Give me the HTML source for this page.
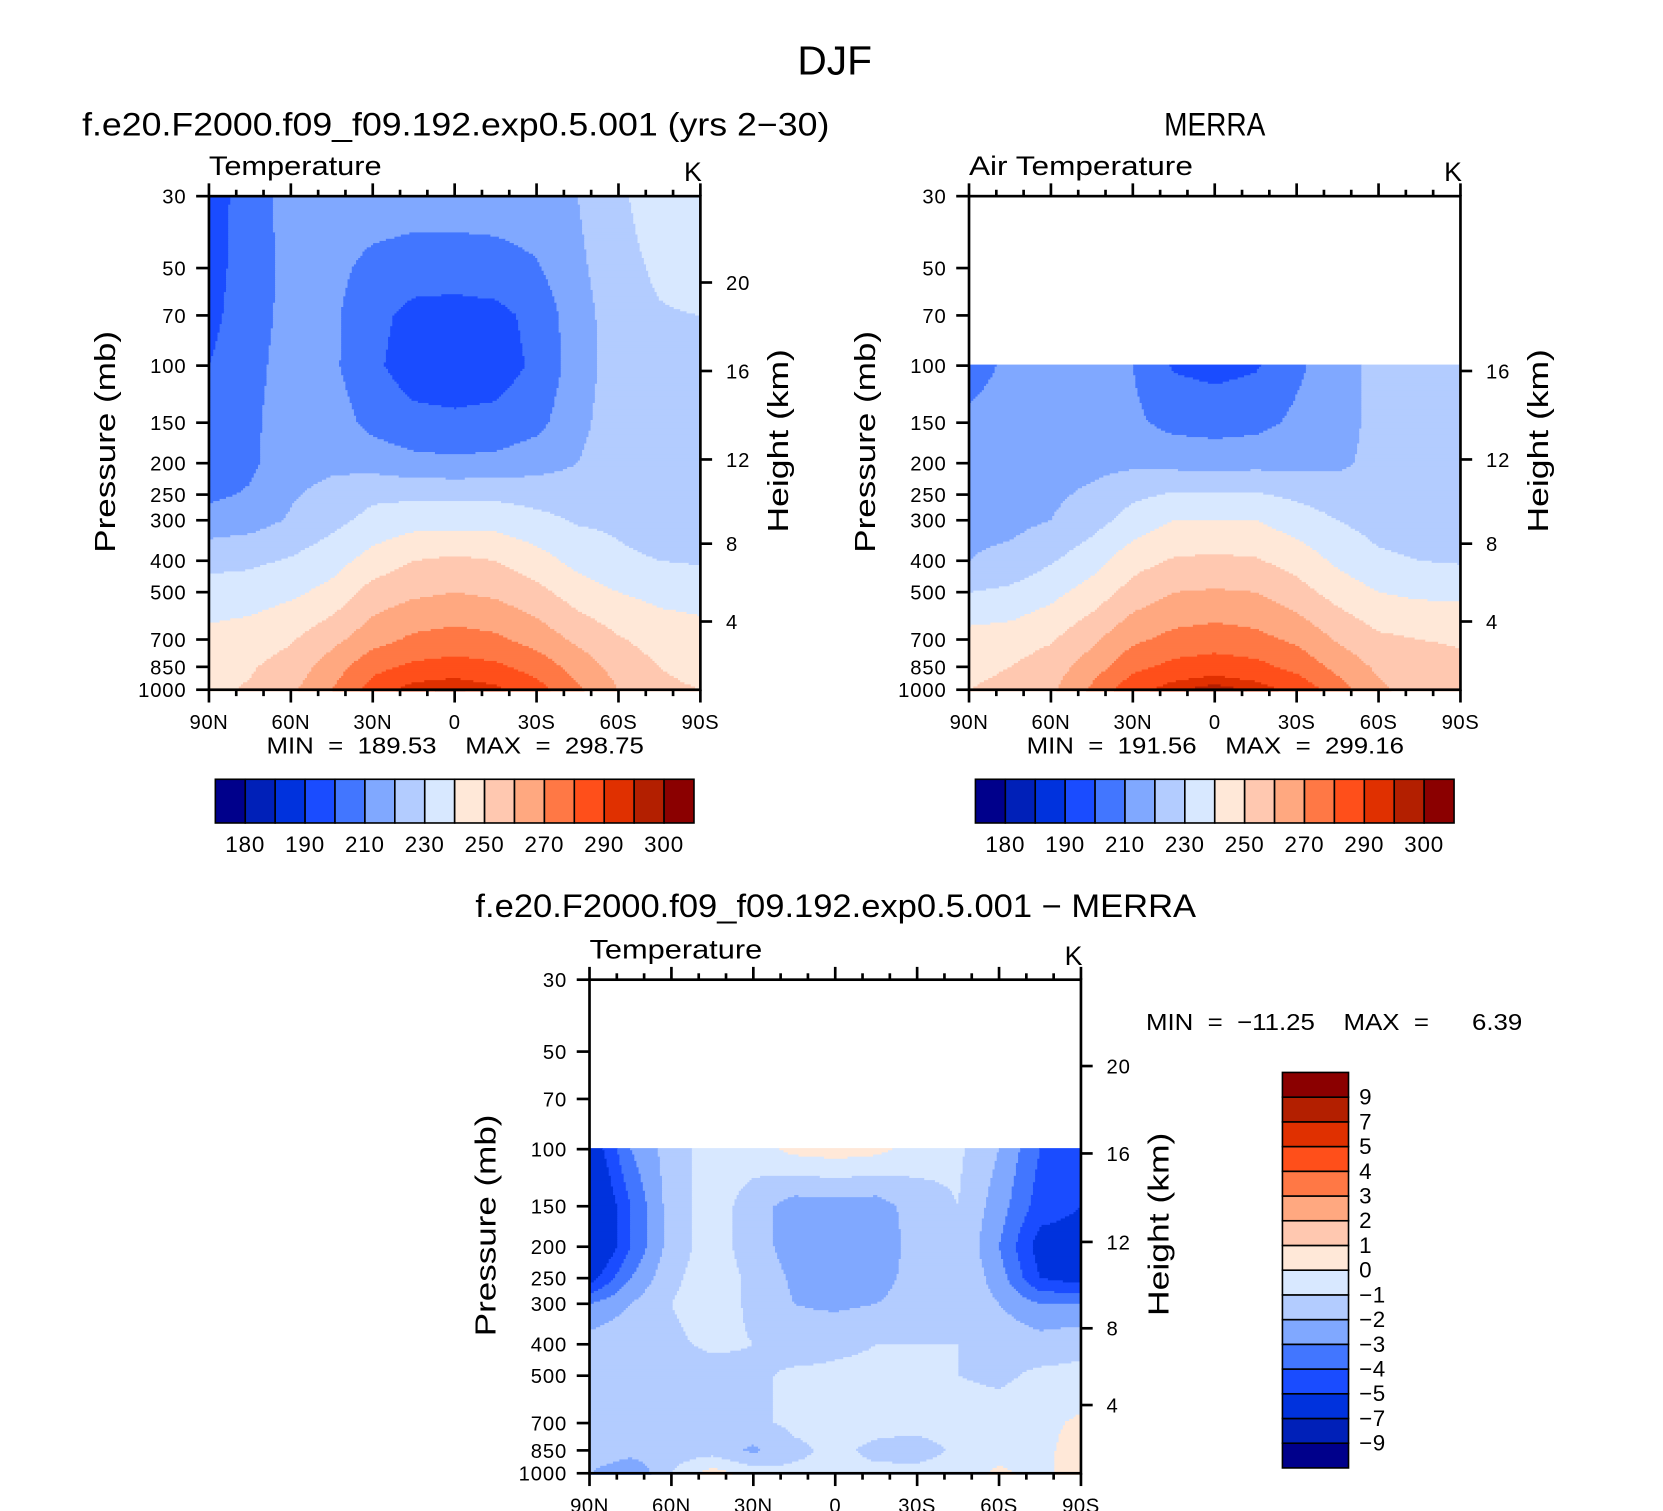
<!DOCTYPE html>
<html><head><meta charset="utf-8"><style>
html,body{margin:0;padding:0;background:#fff;}
svg{display:block;}
text{font-family:"Liberation Sans",sans-serif;fill:#000;}
</style></head><body>
<svg id="fig" width="1663" height="1511" viewBox="0 0 1560 1417.4" preserveAspectRatio="none" xmlns="http://www.w3.org/2000/svg">
<text x="783" y="70" font-size="38" text-anchor="middle" textLength="70" lengthAdjust="spacingAndGlyphs">DJF</text>
<g id="layer"></g>
</svg>
<script>
// ---- data ----
const lats = [90,75,60,45,30,15,0,-15,-30,-45,-60,-75,-90];
const plevs = [30,50,70,100,150,200,250,300,400,500,700,850,1000];
const plevsObs = [100,150,200,250,300,400,500,700,850,1000];
const tempLevels = [180,185,190,200,210,220,230,240,250,260,270,280,290,295,300];
const tempLabels = ["180","190","210","230","250","270","290","300"];
const diffLevels = [-9,-7,-5,-4,-3,-2,-1,0,1,2,3,4,5,7,9];
const diffLabels = ["\u22129","\u22127","\u22125","\u22124","\u22123","\u22122","\u22121","0","1","2","3","4","5","7","9"];
const colors = ['#00008b','#0020b8','#0032dd','#1a4cff','#4276ff','#80a8ff','#b3ccff','#d8e8ff','#ffe8d8','#ffc8b0','#ffa880','#ff7845','#ff4f1a','#e03000','#b31f00','#8b0000'];
const modelT = [
[195,205,214,216,216,215,215,215,216,220,228,236,238],
[196,205,213,213,207,205,205,206,209,218,226,232,236],
[197,206,213,212,203,197,196,197,203,216,225,229,230],
[200,207,214,212,202,195,194,195,202,215,225,228,228],
[204,208,215,215,207,203,202,203,207,217,226,227,227],
[205,208,216,218,216,213,212,213,216,220,226,222,222],
[208,211,219,223,228,228,228,228,226,225,228,222,221],
[214,216,221,227,233,236,236,236,233,229,228,225,224],
[227,228,231,236,244,250,252,250,244,237,232,230,229],
[234,235,238,243,254,258,260,258,253,245,240,237,236],
[243,245,249,257,266,272,274,272,266,258,251,246,244],
[246,249,254,265,277,282,284,282,276,266,256,250,247],
[248,251,258,270,284,294,296,292,284,272,260,252,250]];
const merraT = [
[206,212,215,215,210,199,197,199,208,216,223,225,225],
[212,214,215,215,212,207,206,207,212,216,223,225,225],
[215,215,216,217,218,217,216,217,217,218,223,224,224],
[216,216,218,222,228,231,231,231,228,225,224,223,223],
[217,217,220,226,234,240,240,240,235,230,226,224,222],
[220,223,229,236,246,251,252,251,246,238,232,230,229],
[230,232,237,244,254,260,261,260,254,246,240,238,238],
[244,245,249,258,268,273,275,273,268,259,252,250,249],
[248,250,255,265,277,283,285,283,277,267,258,254,252],
[250,252,258,272,287,294,298,294,287,275,262,256,254]];
const diffT = [
[-6,-3,-1.5,-0.5,-0.5,0.3,0.5,0.3,-0.5,-0.8,-2,-4,-4],
[-7,-4,-1.5,-0.5,-1.5,-2.5,-2.5,-2.5,-1.5,-1,-2.5,-4.5,-5],
[-7,-4,-1.5,-0.5,-1.5,-2.5,-2.5,-2.8,-1.5,-1,-3,-5.5,-5.5],
[-5.5,-3,-1.2,-0.5,-1.2,-2.2,-2.5,-2.5,-1.5,-1,-2.5,-5,-5.5],
[-3,-2,-1,-0.5,-1.2,-2,-2.2,-2,-1.5,-1.2,-2,-3,-3],
[-1.5,-1.2,-1.2,-0.8,-1,-1.5,-1.2,-1,-1,-1,-1.2,-1.5,-1.2],
[-1.5,-1.5,-1.5,-1.5,-1.2,-0.8,-0.8,-0.8,-0.8,-1,-1.2,-0.8,-0.8],
[-1.5,-1.5,-1.5,-1.5,-1.2,-0.8,-0.7,-0.7,-0.6,-0.5,-0.5,-0.3,0.2],
[-1.2,-1.5,-1.5,-1.5,-2.2,-1.2,-0.8,-1.2,-1.5,-0.8,-0.4,-0.3,0.5],
[-2,-3,-1,0.5,-0.5,-0.8,-0.8,-0.8,-0.6,-0.5,0.2,-0.3,0.5]];
const presTicks = [30,50,70,100,150,200,250,300,400,500,700,850,1000];
const heightTicks = [20,16,12,8,4];
const latTicks = [90,60,30,0,-30,-60,-90];
const latTickLabels = ["90N","60N","30N","0","30S","60S","90S"];

// ---- drawing ----
const NS = "http://www.w3.org/2000/svg";
const layer = document.getElementById('layer');
function mk(tag, attrs, parent){const e=document.createElementNS(NS,tag);for(const k in attrs)e.setAttribute(k,attrs[k]);(parent||layer).appendChild(e);return e;}
function txt(s, attrs, parent){const e=mk('text',attrs,parent);e.textContent=s;return e;}
function levelIndex(v, levels){let i=0;while(i<levels.length && v>=levels[i])i++;return i;}
const heightY = {20:[265,1000],16:[348,1082],12:[431,1165],8:[510,1246],4:[583,1318]};

function panel(opt){
  const L=opt.x0,R=opt.x0+461,T=opt.y0,B=opt.y0+463;
  const g=mk('g',{});  
  const xS=lat=>L+(90-lat)/180*(R-L);
  const yS=p=>T+Math.log(p/30)/Math.log(1000/30)*(B-T);
  const fg=mk('g',{},g);  
  const st=2;
  const pl=opt.plevs, data=opt.data;
  const lp=pl.map(p=>Math.log(p));
  for(let y=T;y<B;y+=st){
    const p=30*Math.exp((y+st/2-T)/(B-T)*Math.log(1000/30));
    if(p<pl[0]) continue;
    const l=Math.log(p);
    let k=0;while(k<pl.length-2 && l>lp[k+1])k++;
    let fy=(l-lp[k])/(lp[k+1]-lp[k]);fy=Math.max(0,Math.min(1,fy));
    let runStart=L,runC=-1;
    const flush=(xe)=>{if(runC>=0){mk('rect',{x:runStart,y:y,width:xe-runStart+0.6,height:st+0.6,fill:opt.colors[runC]},fg);}};
    for(let x=L;x<R;x+=st){
      const lat=90-(x+st/2-L)/(R-L)*180;
      let fi=(90-lat)/15;let i=Math.min(lats.length-2,Math.floor(fi));let fx=fi-i;
      const v=(data[k][i]*(1-fx)+data[k][i+1]*fx)*(1-fy)+(data[k+1][i]*(1-fx)+data[k+1][i+1]*fx)*fy;
      const c=levelIndex(v,opt.levels);
      if(c!==runC){flush(x);runStart=x;runC=c;}
    }
    flush(R);
  }
  const fr=mk('rect',{x:L,y:T,width:R-L,height:B-T,fill:'none',stroke:'#000','stroke-width':2.5},g);
   
  presTicks.forEach(p=>{const y=yS(p);mk('line',{x1:L-12,x2:L,y1:y,y2:y,stroke:'#000','stroke-width':2.5},g);
    const t=txt(String(p),{x:L-21,y:y+7,'font-size':19,'letter-spacing':0.8,'text-anchor':'end'},g);  });
  for(let lat=90;lat>=-90;lat-=10){const x=xS(lat);const maj=lat%30===0;const len=maj?12:6;
    mk('line',{x1:x,x2:x,y1:T-len,y2:T,stroke:'#000','stroke-width':2.5},g);
    mk('line',{x1:x,x2:x,y1:B,y2:B+len,stroke:'#000','stroke-width':2.5},g);}
  latTicks.forEach((lat,i)=>{const t=txt(latTickLabels[i],{x:xS(lat),y:B+37,'font-size':19,'letter-spacing':0.5,'text-anchor':'middle'},g);});
  heightTicks.forEach(h=>{const y=heightY[h][opt.hIdx];if(opt.hmin && h>opt.hmin)return;
    mk('line',{x1:R,x2:R+11,y1:y,y2:y,stroke:'#000','stroke-width':2.5},g);
    const t=txt(String(h),{x:R+24,y:y+7,'font-size':19,'letter-spacing':0.8},g);});
  const pt=txt('Pressure  (mb)',{x:0,y:0,'font-size':27,'text-anchor':'middle',textLength:208,lengthAdjust:'spacingAndGlyphs',transform:`translate(${L-88},${(T+B)/2-1}) rotate(-90)`},g);
   
  const ht=txt('Height  (km)',{x:0,y:0,'font-size':27,'text-anchor':'middle',textLength:172,lengthAdjust:'spacingAndGlyphs',transform:`translate(${R+82},${(T+B)/2-2}) rotate(-90)`},g);
   
  const lt=txt(opt.left,{x:L,y:T-20,'font-size':25,textLength:opt.leftLen,lengthAdjust:'spacingAndGlyphs'},g);  
  const ut=txt('K',{x:R-7,y:T-14,'font-size':25,'text-anchor':'middle'},g);  
}

function hbar(x0,y0,name){
  const g=mk('g',{});  
  const w=449/16;
  colors.forEach((c,i)=>{const r=mk('rect',{x:x0+i*w,y:y0,width:w,height:41,fill:c,stroke:'#000','stroke-width':1.5},g);
    });
  tempLabels.forEach((s)=>{const idx=tempLevels.indexOf(+s);const t=txt(s,{x:x0+(idx+1)*w,y:y0+68,'font-size':21,'letter-spacing':0.8,'text-anchor':'middle'},g);
    });
}

const t1=txt('f.e20.F2000.f09_f09.192.exp0.5.001 (yrs 2\u221230)',{x:77,y:127,'font-size':30,textLength:701,lengthAdjust:'spacingAndGlyphs'});
 
const t2=txt('MERRA',{x:1092,y:127,'font-size':30,textLength:95,lengthAdjust:'spacingAndGlyphs'});
 
const t3=txt('f.e20.F2000.f09_f09.192.exp0.5.001 \u2212 MERRA',{x:446,y:860,'font-size':30,textLength:676,lengthAdjust:'spacingAndGlyphs'});
 

panel({name:'model-panel',x0:196,y0:184,plevs:plevs,data:modelT,levels:tempLevels,colors:colors,hIdx:0,left:'Temperature',leftLen:162});
panel({name:'merra-panel',x0:909,y0:184,plevs:plevsObs,data:merraT,levels:tempLevels,colors:colors,hIdx:0,hmin:16,left:'Air Temperature',leftLen:210});
panel({name:'difference-panel',x0:553,y0:919,plevs:plevsObs,data:diffT,levels:diffLevels,colors:colors,hIdx:1,left:'Temperature',leftLen:162});

const m1=txt('MIN  =  189.53    MAX  =  298.75',{x:250,y:707,'font-size':22,textLength:354,lengthAdjust:'spacingAndGlyphs'});
  m1.style.whiteSpace='pre';
const m2=txt('MIN  =  191.56    MAX  =  299.16',{x:963,y:707,'font-size':22,textLength:354,lengthAdjust:'spacingAndGlyphs'});
  m2.style.whiteSpace='pre';
const m3=txt('MIN  =  \u221211.25    MAX  =      6.39',{x:1075,y:966,'font-size':22,textLength:353,lengthAdjust:'spacingAndGlyphs'});
  m3.style.whiteSpace='pre';

hbar(202,731,'model-colorbar');
hbar(915,731,'merra-colorbar');

(function(){
  const g=mk('g',{});  
  const x0=1203,y0=1006,h=371/16;
  colors.forEach((c,i)=>{const r=mk('rect',{x:x0,y:y0+(15-i)*h,width:62,height:h,fill:c,stroke:'#000','stroke-width':1.5},g);
    });
  diffLabels.forEach((s,i)=>{const t=txt(s,{x:x0+72,y:y0+(15-i)*h+7,'font-size':21,'letter-spacing':0.5},g);
    });
})();
</script>
</body></html>
